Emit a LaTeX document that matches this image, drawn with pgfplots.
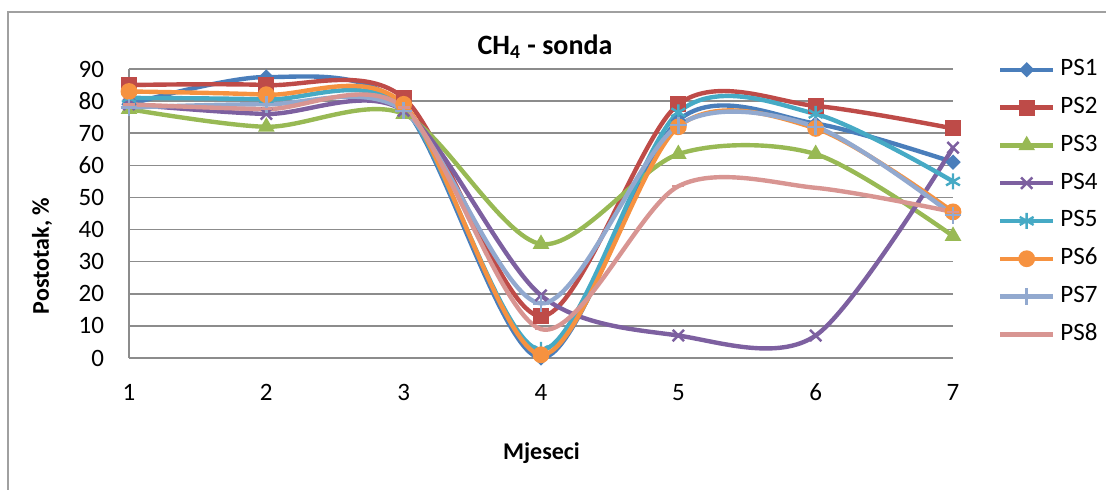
\documentclass[border=0pt]{standalone}
\usepackage{fontspec}
\setmainfont{Carlito}
\usepackage{pgfplots}
\pgfplotsset{compat=1.18}
\definecolor{c1}{RGB}{74,126,187}
\definecolor{c2}{RGB}{190,75,72}
\definecolor{c3}{RGB}{152,185,84}
\definecolor{c4}{RGB}{125,96,160}
\definecolor{c5}{RGB}{70,170,197}
\definecolor{c6}{RGB}{246,146,64}
\definecolor{c7}{RGB}{146,169,207}
\definecolor{c8}{RGB}{216,149,146}
\definecolor{gridgray}{RGB}{140,140,140}
\definecolor{framegray}{RGB}{160,160,160}
\begin{document}
\begin{tikzpicture}[font=\fontsize{12}{14.4}\selectfont]
\useasboundingbox (0,0) rectangle (553pt,244.5pt);
\draw[framegray, line width=0.75pt] (4pt,-2pt) -- (4pt,238.5pt) -- (556pt,238.5pt);
\begin{axis}[
  at={(64.5pt,65.5pt)}, anchor=south west,
  scale only axis, width=412pt, height=144.5pt,
  xmin=1, xmax=7, ymin=0, ymax=90,
  xtick={1,...,7}, ytick={0,10,...,90},
  axis x line*=bottom, axis y line*=left,
  axis line style={draw=gridgray, line width=0.75pt, -},
  major tick length=0pt,
  ymajorgrids, grid style={draw=gridgray, line width=0.75pt},
  /pgf/number format/assume math mode=true,
  tick label style={font=\fontsize{12.5}{15}\selectfont},
  xticklabel style={yshift=-9.5pt},
  yticklabel style={xshift=-9pt},
  clip=false,
  legend cell align=left,
  legend style={at={(1.0546,1.039)}, anchor=north west, draw=none, fill=none,
    inner sep=0pt, outer sep=0pt, row sep=6.9pt, column sep=2.5pt,
    nodes={inner sep=0pt, text height=9pt, text depth=3pt, font=\fontsize{12.5}{15}\selectfont}},
  legend image code/.code={\draw[mark repeat=2,mark phase=2] plot coordinates {(0pt,0pt) (13.25pt,0pt) (26.5pt,0pt)};},
  every axis plot/.append style={smooth, tension=0.5, line width=2.2pt},
]
\addplot[color=c1, mark=square*, mark size=2.3pt, mark options={solid, fill=c1, rotate=45, line width=0.8pt}]
  coordinates {(1,79)(2,87.5)(3,78)(4,0)(5,74)(6,73)(7,61)};
\addlegendentry{PS1}
\addplot[color=c2, mark=square*, mark size=3.6pt, mark options={solid, fill=c2, line width=0.8pt}]
  coordinates {(1,85)(2,85)(3,81)(4,13)(5,79)(6,78.5)(7,71.5)};
\addlegendentry{PS2}
\addplot[color=c3, mark=triangle*, mark size=4pt, mark options={solid, fill=c3, line width=0.8pt}]
  coordinates {(1,77.5)(2,72)(3,76)(4,35.5)(5,63.5)(6,63.5)(7,38)};
\addlegendentry{PS3}
\addplot[color=c4, mark=x, mark size=4pt, mark options={solid, line width=1.2pt}]
  coordinates {(1,79)(2,76)(3,77)(4,19.5)(5,7)(6,7)(7,65.5)};
\addlegendentry{PS4}
\addplot[color=c5, mark=asterisk, mark size=4pt, mark options={solid, line width=1.2pt}]
  coordinates {(1,81)(2,80.5)(3,78)(4,2.5)(5,76.5)(6,76)(7,55)};
\addlegendentry{PS5}
\addplot[color=c6, mark=*, mark size=3.8pt, mark options={solid, fill=c6, line width=0.8pt}]
  coordinates {(1,83)(2,82)(3,79)(4,1)(5,72)(6,71.5)(7,45.5)};
\addlegendentry{PS6}
\addplot[color=c7, mark=+, mark size=4.2pt, mark options={solid, line width=1.2pt}]
  coordinates {(1,78)(2,79)(3,77)(4,17)(5,72.5)(6,72)(7,44.5)};
\addlegendentry{PS7}
\addplot[color=c8, mark=-, mark size=3pt, mark options={solid, line width=1.2pt}]
  coordinates {(1,79)(2,77.5)(3,78)(4,9)(5,53.5)(6,53)(7,45.5)};
\addlegendentry{PS8}
\end{axis}
\node[anchor=base, font=\bfseries\fontsize{14}{16.8}\selectfont] at (272.5pt,217.5pt) {CH\textsubscript{4} - sonda};
\node[anchor=base, font=\bfseries\fontsize{12}{14.4}\selectfont] at (270.75pt,15pt) {Mjeseci};
\node[rotate=90, font=\bfseries\fontsize{12}{14.4}\selectfont] at (21pt,116.5pt) {Postotak, \%};
\end{tikzpicture}
\end{document}
